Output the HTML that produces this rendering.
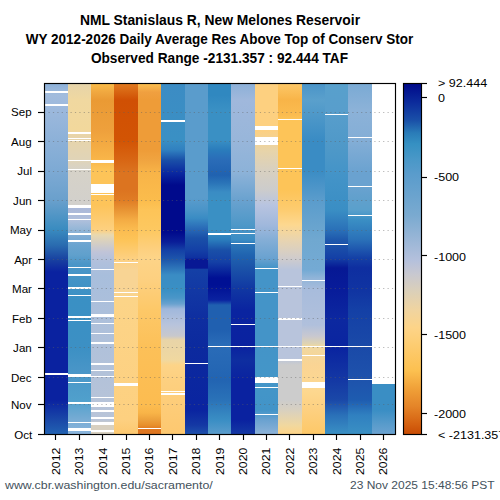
<!DOCTYPE html><html><head><meta charset="utf-8"><style>
html,body{margin:0;padding:0;background:#fff;width:500px;height:500px;overflow:hidden;}
body{position:relative;font-family:"Liberation Sans",sans-serif;color:#000;}
.a{position:absolute;white-space:nowrap;}
.t{font-weight:bold;font-size:14px;left:0;width:439px;text-align:center;transform-origin:219.5px 0;}
.ml{font-size:11px;right:468px;text-align:right;transform-origin:100% 50%;transform:scaleX(1.05);}
.yl{font-size:11px;transform-origin:0 0;transform:rotate(-90deg) scaleX(1.12);}
.cl{font-size:11px;transform-origin:0 50%;transform:scaleX(1.14);}
</style></head><body>
<div class="a t" style="top:11.5px;transform:translateX(0.5px) scaleX(0.99)">NML Stanislaus R, New Melones Reservoir</div>
<div class="a t" style="top:30.5px;transform:scaleX(0.964)">WY 2012-2026 Daily Average Res Above Top of Conserv Stor</div>
<div class="a t" style="top:50px;transform:scaleX(0.976)">Observed Range -2131.357 : 92.444 TAF</div>
<svg class="a" style="left:0;top:0" width="500" height="500"><defs><linearGradient id="cb" x1="0" y1="0" x2="0" y2="1"><stop offset="0.0000" stop-color="#000a8a"/><stop offset="0.0528" stop-color="#0c2c9c"/><stop offset="0.1041" stop-color="#1a50a8"/><stop offset="0.1401" stop-color="#2a7cb8"/><stop offset="0.1706" stop-color="#3590c2"/><stop offset="0.2169" stop-color="#4a98c8"/><stop offset="0.2579" stop-color="#5a9ccc"/><stop offset="0.3748" stop-color="#7aaad0"/><stop offset="0.5029" stop-color="#b4c0dc"/><stop offset="0.5430" stop-color="#c8c8d0"/><stop offset="0.5942" stop-color="#dcd0b8"/><stop offset="0.6455" stop-color="#f0d4a0"/><stop offset="0.6968" stop-color="#fdd488"/><stop offset="0.7480" stop-color="#fdcc70"/><stop offset="0.8195" stop-color="#fcc050"/><stop offset="0.8708" stop-color="#f0a038"/><stop offset="0.9220" stop-color="#e48428"/><stop offset="0.9733" stop-color="#d46010"/><stop offset="1.0000" stop-color="#c84c04"/></linearGradient></defs><rect x="44.50" y="83.50" width="351.00" height="350.50" fill="#fff"/><linearGradient id="g2012" gradientUnits="userSpaceOnUse" x1="0" y1="83.50" x2="0" y2="434.00"><stop offset="0.0000" stop-color="#8cb0d8"/><stop offset="0.0328" stop-color="#a2bcdd"/><stop offset="0.0756" stop-color="#9cb8dc"/><stop offset="0.2468" stop-color="#7eaad4"/><stop offset="0.3324" stop-color="#6aa0cc"/><stop offset="0.4151" stop-color="#3a8cc0"/><stop offset="0.4608" stop-color="#2a6cb0"/><stop offset="0.5036" stop-color="#1840a0"/><stop offset="0.5378" stop-color="#0a22a0"/><stop offset="0.9030" stop-color="#0a22a0"/><stop offset="0.9601" stop-color="#1a48a8"/><stop offset="1.0000" stop-color="#2262b2"/></linearGradient><rect x="44" y="83.50" width="24" height="350.50" fill="url(#g2012)"/><rect x="44" y="91" width="24" height="2" fill="#fff"/><rect x="44" y="104" width="24" height="2" fill="#fff"/><rect x="44" y="373" width="24" height="2" fill="#fff"/><linearGradient id="g2013" gradientUnits="userSpaceOnUse" x1="0" y1="83.50" x2="0" y2="434.00"><stop offset="0.0000" stop-color="#e6d4aa"/><stop offset="0.0471" stop-color="#f0d8a0"/><stop offset="0.1327" stop-color="#f2d89c"/><stop offset="0.1469" stop-color="#e8d4a8"/><stop offset="0.2183" stop-color="#e0d4b8"/><stop offset="0.2468" stop-color="#d6d2c8"/><stop offset="0.3466" stop-color="#d2d0cc"/><stop offset="0.3552" stop-color="#aab8d8"/><stop offset="0.3894" stop-color="#b0c0dc"/><stop offset="0.4123" stop-color="#98b8d8"/><stop offset="0.4351" stop-color="#80acd4"/><stop offset="0.4608" stop-color="#6aa4d0"/><stop offset="0.4893" stop-color="#60a0cc"/><stop offset="0.5150" stop-color="#4a96c8"/><stop offset="0.6177" stop-color="#3a90c4"/><stop offset="0.7546" stop-color="#3c90c4"/><stop offset="0.8260" stop-color="#4a96c8"/><stop offset="0.9030" stop-color="#50a0cc"/><stop offset="0.9601" stop-color="#78acd4"/><stop offset="1.0000" stop-color="#8ab4dc"/></linearGradient><rect x="68" y="83.50" width="23" height="350.50" fill="url(#g2013)"/><rect x="68" y="132" width="23" height="2" fill="#fff"/><rect x="68" y="138" width="23" height="1" fill="#fff"/><rect x="68" y="140" width="23" height="1" fill="#fff"/><rect x="68" y="160" width="23" height="1" fill="#fff"/><rect x="68" y="169" width="23" height="1" fill="#fff"/><rect x="68" y="205" width="23" height="3" fill="#fff"/><rect x="68" y="213" width="23" height="2" fill="#fff"/><rect x="68" y="219" width="23" height="1" fill="#fff"/><rect x="68" y="233" width="23" height="2" fill="#fff"/><rect x="68" y="240" width="23" height="2" fill="#fff"/><rect x="68" y="267" width="23" height="1" fill="#fff"/><rect x="68" y="274" width="23" height="2" fill="#fff"/><rect x="68" y="287" width="23" height="2" fill="#fff"/><rect x="68" y="295" width="23" height="1" fill="#fff"/><rect x="68" y="316" width="23" height="2" fill="#fff"/><rect x="68" y="320" width="23" height="1" fill="#fff"/><rect x="68" y="374" width="23" height="3" fill="#fff"/><rect x="68" y="382" width="23" height="1" fill="#fff"/><rect x="68" y="402" width="23" height="2" fill="#fff"/><rect x="68" y="422" width="23" height="1" fill="#fff"/><rect x="68" y="428" width="23" height="3" fill="#fff"/><linearGradient id="g2014" gradientUnits="userSpaceOnUse" x1="0" y1="83.50" x2="0" y2="434.00"><stop offset="0.0000" stop-color="#fbbc48"/><stop offset="0.0243" stop-color="#f0a840"/><stop offset="0.0471" stop-color="#ea9a34"/><stop offset="0.1327" stop-color="#eea03c"/><stop offset="0.2126" stop-color="#f8b448"/><stop offset="0.2468" stop-color="#fdc458"/><stop offset="0.3466" stop-color="#fdc45a"/><stop offset="0.4180" stop-color="#fdd080"/><stop offset="0.4322" stop-color="#e8d8b0"/><stop offset="0.4608" stop-color="#d0ccc8"/><stop offset="0.4807" stop-color="#c0c4d8"/><stop offset="0.5093" stop-color="#b0c0dc"/><stop offset="0.5464" stop-color="#a8bedc"/><stop offset="0.9601" stop-color="#b8c4d8"/><stop offset="0.9743" stop-color="#d8d0c0"/><stop offset="1.0000" stop-color="#d8d0c0"/></linearGradient><rect x="91" y="83.50" width="23" height="350.50" fill="url(#g2014)"/><rect x="91" y="160" width="23" height="3" fill="#fff"/><rect x="91" y="184" width="23" height="9" fill="#fff"/><rect x="91" y="194" width="23" height="1" fill="#fff"/><rect x="91" y="269" width="23" height="1" fill="#fff"/><rect x="91" y="301" width="23" height="1" fill="#fff"/><rect x="91" y="314" width="23" height="3" fill="#fff"/><rect x="91" y="323" width="23" height="1" fill="#fff"/><rect x="91" y="333" width="23" height="1" fill="#fff"/><rect x="91" y="342" width="23" height="2" fill="#fff"/><rect x="91" y="363" width="23" height="2" fill="#fff"/><rect x="91" y="370" width="23" height="1" fill="#fff"/><rect x="91" y="376" width="23" height="1" fill="#fff"/><rect x="91" y="397" width="23" height="1" fill="#fff"/><rect x="91" y="402" width="23" height="5" fill="#fff"/><rect x="91" y="410" width="23" height="2" fill="#fff"/><rect x="91" y="417" width="23" height="2" fill="#fff"/><rect x="91" y="422" width="23" height="3" fill="#fff"/><rect x="91" y="430" width="23" height="2" fill="#fff"/><linearGradient id="g2015" gradientUnits="userSpaceOnUse" x1="0" y1="83.50" x2="0" y2="434.00"><stop offset="0.0000" stop-color="#e07a20"/><stop offset="0.0471" stop-color="#d05004"/><stop offset="0.1612" stop-color="#d25404"/><stop offset="0.2183" stop-color="#d86614"/><stop offset="0.2553" stop-color="#dc7420"/><stop offset="0.3039" stop-color="#dc7420"/><stop offset="0.3324" stop-color="#e07c24"/><stop offset="0.3609" stop-color="#e89434"/><stop offset="0.3894" stop-color="#f4ac44"/><stop offset="0.4180" stop-color="#fbbc50"/><stop offset="0.4465" stop-color="#fdc458"/><stop offset="0.4979" stop-color="#fdd080"/><stop offset="0.5321" stop-color="#f8d494"/><stop offset="0.5892" stop-color="#f8d494"/><stop offset="0.6177" stop-color="#fcd488"/><stop offset="0.9601" stop-color="#fdd080"/><stop offset="1.0000" stop-color="#fcc870"/></linearGradient><rect x="114" y="83.50" width="24" height="350.50" fill="url(#g2015)"/><rect x="114" y="262" width="24" height="1" fill="#fff"/><rect x="114" y="292" width="24" height="1" fill="#fff"/><rect x="114" y="296" width="24" height="1" fill="#fff"/><rect x="114" y="383" width="24" height="3" fill="#fff"/><linearGradient id="g2016" gradientUnits="userSpaceOnUse" x1="0" y1="83.50" x2="0" y2="434.00"><stop offset="0.0000" stop-color="#fcc050"/><stop offset="0.0243" stop-color="#f0a040"/><stop offset="0.0471" stop-color="#ee9c38"/><stop offset="0.1897" stop-color="#ee9c38"/><stop offset="0.2183" stop-color="#f0a440"/><stop offset="0.2553" stop-color="#f8b448"/><stop offset="0.3324" stop-color="#fbbc4c"/><stop offset="0.3609" stop-color="#fdc458"/><stop offset="0.4180" stop-color="#fdc860"/><stop offset="0.4750" stop-color="#fdd080"/><stop offset="0.4979" stop-color="#fdd488"/><stop offset="0.5606" stop-color="#fdd080"/><stop offset="0.6462" stop-color="#fdc868"/><stop offset="0.7546" stop-color="#fcc058"/><stop offset="0.9173" stop-color="#fcbc50"/><stop offset="0.9401" stop-color="#f8b448"/><stop offset="0.9601" stop-color="#eca03c"/><stop offset="0.9743" stop-color="#e8902c"/><stop offset="0.9857" stop-color="#e07820"/><stop offset="1.0000" stop-color="#dc7420"/></linearGradient><rect x="138" y="83.50" width="23" height="350.50" fill="url(#g2016)"/><rect x="138" y="428" width="23" height="1" fill="#fff"/><linearGradient id="g2017" gradientUnits="userSpaceOnUse" x1="0" y1="83.50" x2="0" y2="434.00"><stop offset="0.0000" stop-color="#3c8cc4"/><stop offset="0.1612" stop-color="#3a90c4"/><stop offset="0.1897" stop-color="#3080c0"/><stop offset="0.2183" stop-color="#1a50a8"/><stop offset="0.2553" stop-color="#0a28a0"/><stop offset="0.2896" stop-color="#000a8c"/><stop offset="0.4237" stop-color="#000a8c"/><stop offset="0.4522" stop-color="#0a1e98"/><stop offset="0.4750" stop-color="#1440a6"/><stop offset="0.5036" stop-color="#1e58ac"/><stop offset="0.5464" stop-color="#3a8cc4"/><stop offset="0.5892" stop-color="#3a90c4"/><stop offset="0.6120" stop-color="#4a96c8"/><stop offset="0.6291" stop-color="#6aa2cf"/><stop offset="0.6434" stop-color="#a0b8dc"/><stop offset="0.6890" stop-color="#b8c4dc"/><stop offset="0.7204" stop-color="#c8c8cc"/><stop offset="0.7318" stop-color="#e8d4a8"/><stop offset="0.7889" stop-color="#f0d8a0"/><stop offset="0.8031" stop-color="#fdd488"/><stop offset="0.8459" stop-color="#fdd080"/><stop offset="1.0000" stop-color="#fdc870"/></linearGradient><rect x="161" y="83.50" width="24" height="350.50" fill="url(#g2017)"/><rect x="161" y="120" width="24" height="2" fill="#fff"/><rect x="161" y="391" width="24" height="1" fill="#fff"/><rect x="161" y="393" width="24" height="2" fill="#fff"/><linearGradient id="g2018" gradientUnits="userSpaceOnUse" x1="0" y1="83.50" x2="0" y2="434.00"><stop offset="0.0000" stop-color="#5a9ccc"/><stop offset="0.3267" stop-color="#5a9ccc"/><stop offset="0.3609" stop-color="#4a94c8"/><stop offset="0.3837" stop-color="#3a8cc4"/><stop offset="0.4123" stop-color="#2a6cb8"/><stop offset="0.4408" stop-color="#1a50a8"/><stop offset="0.4750" stop-color="#1440a6"/><stop offset="0.4979" stop-color="#0e30a0"/><stop offset="0.5021" stop-color="#081894"/><stop offset="0.5264" stop-color="#081894"/><stop offset="0.5307" stop-color="#1440a6"/><stop offset="0.5892" stop-color="#1238a4"/><stop offset="0.6748" stop-color="#0e2ea0"/><stop offset="0.7489" stop-color="#0c2a9e"/><stop offset="0.9315" stop-color="#0a24a0"/><stop offset="0.9743" stop-color="#1438a4"/><stop offset="1.0000" stop-color="#1e50ac"/></linearGradient><rect x="185" y="83.50" width="23" height="350.50" fill="url(#g2018)"/><rect x="185" y="363" width="23" height="1" fill="#fff"/><linearGradient id="g2019" gradientUnits="userSpaceOnUse" x1="0" y1="83.50" x2="0" y2="434.00"><stop offset="0.0000" stop-color="#3088c0"/><stop offset="0.0328" stop-color="#3088c0"/><stop offset="0.0756" stop-color="#3a90c4"/><stop offset="0.1612" stop-color="#3a90c4"/><stop offset="0.1897" stop-color="#2a7cbc"/><stop offset="0.2183" stop-color="#2a6cb8"/><stop offset="0.2611" stop-color="#2062b0"/><stop offset="0.2839" stop-color="#2a74b8"/><stop offset="0.3096" stop-color="#3a8cc4"/><stop offset="0.3324" stop-color="#3a90c4"/><stop offset="0.4180" stop-color="#3a90c4"/><stop offset="0.4465" stop-color="#2a7cbc"/><stop offset="0.4750" stop-color="#1a50a8"/><stop offset="0.5093" stop-color="#1440a6"/><stop offset="0.5549" stop-color="#001094"/><stop offset="0.5749" stop-color="#001094"/><stop offset="0.6177" stop-color="#0a22a0"/><stop offset="0.6320" stop-color="#2060b0"/><stop offset="0.7033" stop-color="#2060b0"/><stop offset="0.7461" stop-color="#2a6cb8"/><stop offset="0.8459" stop-color="#2264b2"/><stop offset="0.9030" stop-color="#2a72b8"/><stop offset="0.9601" stop-color="#3a8ec4"/><stop offset="1.0000" stop-color="#5a9ccc"/></linearGradient><rect x="208" y="83.50" width="23" height="350.50" fill="url(#g2019)"/><rect x="208" y="233" width="23" height="2" fill="#fff"/><rect x="208" y="346" width="23" height="1" fill="#fff"/><linearGradient id="g2020" gradientUnits="userSpaceOnUse" x1="0" y1="83.50" x2="0" y2="434.00"><stop offset="0.0000" stop-color="#8cb0d8"/><stop offset="0.0471" stop-color="#a0b8dc"/><stop offset="0.1612" stop-color="#98b6da"/><stop offset="0.2553" stop-color="#8cb2d8"/><stop offset="0.3324" stop-color="#6aa2cf"/><stop offset="0.4037" stop-color="#4e98c8"/><stop offset="0.4465" stop-color="#3a8cc4"/><stop offset="0.4608" stop-color="#2a74b8"/><stop offset="0.4893" stop-color="#2064b0"/><stop offset="0.5321" stop-color="#1a50a8"/><stop offset="0.5892" stop-color="#1036a2"/><stop offset="0.6462" stop-color="#0a24a0"/><stop offset="0.7489" stop-color="#0a22a0"/><stop offset="0.7889" stop-color="#0e2ea0"/><stop offset="0.8459" stop-color="#0a22a0"/><stop offset="0.9601" stop-color="#0a22a0"/><stop offset="1.0000" stop-color="#1438a4"/></linearGradient><rect x="231" y="83.50" width="24" height="350.50" fill="url(#g2020)"/><rect x="231" y="229" width="24" height="1" fill="#fff"/><rect x="231" y="233" width="24" height="1" fill="#fff"/><rect x="231" y="243" width="24" height="1" fill="#fff"/><rect x="231" y="324" width="24" height="1" fill="#fff"/><rect x="231" y="346" width="24" height="1" fill="#fff"/><linearGradient id="g2021" gradientUnits="userSpaceOnUse" x1="0" y1="83.50" x2="0" y2="434.00"><stop offset="0.0000" stop-color="#fdd080"/><stop offset="0.1327" stop-color="#fdd080"/><stop offset="0.1897" stop-color="#e8d4a8"/><stop offset="0.2468" stop-color="#d8d0c0"/><stop offset="0.3039" stop-color="#cccccc"/><stop offset="0.3466" stop-color="#b8c4e0"/><stop offset="0.4037" stop-color="#a0b8dc"/><stop offset="0.4465" stop-color="#84aed6"/><stop offset="0.4979" stop-color="#6aa2d0"/><stop offset="0.5264" stop-color="#4494c8"/><stop offset="0.7489" stop-color="#4494c8"/><stop offset="0.8317" stop-color="#4496c8"/><stop offset="0.9315" stop-color="#4294c8"/><stop offset="0.9601" stop-color="#6aa2d0"/><stop offset="1.0000" stop-color="#8cb2d8"/></linearGradient><rect x="255" y="83.50" width="23" height="350.50" fill="url(#g2021)"/><rect x="255" y="126" width="23" height="4" fill="#fff"/><rect x="255" y="137" width="23" height="8" fill="#fff"/><rect x="255" y="268" width="23" height="1" fill="#fff"/><rect x="255" y="292" width="23" height="1" fill="#fff"/><rect x="255" y="346" width="23" height="1" fill="#fff"/><rect x="255" y="377" width="23" height="6" fill="#fff"/><rect x="255" y="387" width="23" height="1" fill="#fff"/><rect x="255" y="414" width="23" height="1" fill="#fff"/><linearGradient id="g2022" gradientUnits="userSpaceOnUse" x1="0" y1="83.50" x2="0" y2="434.00"><stop offset="0.0000" stop-color="#fdc868"/><stop offset="0.0471" stop-color="#f8b448"/><stop offset="0.0899" stop-color="#fbbc50"/><stop offset="0.1041" stop-color="#fdc458"/><stop offset="0.3039" stop-color="#fdc458"/><stop offset="0.3609" stop-color="#fdcc70"/><stop offset="0.4037" stop-color="#fdd890"/><stop offset="0.4465" stop-color="#e8d4b0"/><stop offset="0.4979" stop-color="#d0cccc"/><stop offset="0.5321" stop-color="#b8c4dc"/><stop offset="0.7832" stop-color="#b8c4dc"/><stop offset="0.8031" stop-color="#cccccc"/><stop offset="0.9030" stop-color="#cccccc"/><stop offset="0.9315" stop-color="#d8d0c0"/><stop offset="0.9743" stop-color="#f0d8a0"/><stop offset="1.0000" stop-color="#fdd488"/></linearGradient><rect x="278" y="83.50" width="24" height="350.50" fill="url(#g2022)"/><rect x="278" y="119" width="24" height="1" fill="#fff"/><rect x="278" y="168" width="24" height="1" fill="#fff"/><rect x="278" y="286" width="24" height="1" fill="#fff"/><rect x="278" y="318" width="24" height="2" fill="#fff"/><rect x="278" y="346" width="24" height="1" fill="#fff"/><rect x="278" y="359" width="24" height="2" fill="#fff"/><linearGradient id="g2023" gradientUnits="userSpaceOnUse" x1="0" y1="83.50" x2="0" y2="434.00"><stop offset="0.0000" stop-color="#4a94c8"/><stop offset="0.0471" stop-color="#5aa0cc"/><stop offset="0.1612" stop-color="#3a8cc4"/><stop offset="0.2468" stop-color="#3a8cc4"/><stop offset="0.3324" stop-color="#5a9ccc"/><stop offset="0.4465" stop-color="#70a8d0"/><stop offset="0.5321" stop-color="#74aad4"/><stop offset="0.5549" stop-color="#90b4d8"/><stop offset="0.5892" stop-color="#a8bcdc"/><stop offset="0.6890" stop-color="#b0c0dc"/><stop offset="0.7204" stop-color="#c8c8d0"/><stop offset="0.7432" stop-color="#e0d4b0"/><stop offset="0.7489" stop-color="#f0d8a0"/><stop offset="0.8031" stop-color="#fad494"/><stop offset="0.8745" stop-color="#fdd890"/><stop offset="0.9315" stop-color="#fdd080"/><stop offset="1.0000" stop-color="#fdc868"/></linearGradient><rect x="302" y="83.50" width="23" height="350.50" fill="url(#g2023)"/><rect x="302" y="280" width="23" height="1" fill="#fff"/><rect x="302" y="346" width="23" height="1" fill="#fff"/><rect x="302" y="355" width="23" height="1" fill="#fff"/><rect x="302" y="382" width="23" height="6" fill="#fff"/><linearGradient id="g2024" gradientUnits="userSpaceOnUse" x1="0" y1="83.50" x2="0" y2="434.00"><stop offset="0.0000" stop-color="#58a0cc"/><stop offset="0.0756" stop-color="#589ecc"/><stop offset="0.1897" stop-color="#4e98c8"/><stop offset="0.2553" stop-color="#4494c8"/><stop offset="0.3609" stop-color="#3a8ec4"/><stop offset="0.4180" stop-color="#2a70b8"/><stop offset="0.4465" stop-color="#1e58ac"/><stop offset="0.4979" stop-color="#1440a6"/><stop offset="0.5264" stop-color="#061894"/><stop offset="0.5892" stop-color="#081c9a"/><stop offset="0.6748" stop-color="#0c28a0"/><stop offset="0.7546" stop-color="#0a24a0"/><stop offset="0.8459" stop-color="#1438a4"/><stop offset="0.9030" stop-color="#1a48a8"/><stop offset="0.9458" stop-color="#2a70b8"/><stop offset="1.0000" stop-color="#3a90c4"/></linearGradient><rect x="325" y="83.50" width="23" height="350.50" fill="url(#g2024)"/><rect x="325" y="114" width="23" height="1" fill="#fff"/><rect x="325" y="244" width="23" height="1" fill="#fff"/><rect x="325" y="346" width="23" height="1" fill="#fff"/><linearGradient id="g2025" gradientUnits="userSpaceOnUse" x1="0" y1="83.50" x2="0" y2="434.00"><stop offset="0.0000" stop-color="#7aaad4"/><stop offset="0.0756" stop-color="#8cb2d8"/><stop offset="0.1612" stop-color="#84aed6"/><stop offset="0.2553" stop-color="#6aa2d0"/><stop offset="0.2896" stop-color="#6aa2d0"/><stop offset="0.3324" stop-color="#60a0cc"/><stop offset="0.3609" stop-color="#5aa0cc"/><stop offset="0.3894" stop-color="#3a8ec4"/><stop offset="0.4465" stop-color="#2a70b8"/><stop offset="0.4979" stop-color="#1440a6"/><stop offset="0.5264" stop-color="#0e2ea0"/><stop offset="0.5892" stop-color="#1034a2"/><stop offset="0.6462" stop-color="#1440a6"/><stop offset="0.7546" stop-color="#1a4aa8"/><stop offset="0.8402" stop-color="#1e52ac"/><stop offset="0.9030" stop-color="#1e5cb0"/><stop offset="0.9458" stop-color="#3080c0"/><stop offset="1.0000" stop-color="#3a90c4"/></linearGradient><rect x="348" y="83.50" width="24" height="350.50" fill="url(#g2025)"/><rect x="348" y="137" width="24" height="1" fill="#fff"/><rect x="348" y="186" width="24" height="1" fill="#fff"/><rect x="348" y="215" width="24" height="1" fill="#fff"/><rect x="348" y="346" width="24" height="1" fill="#fff"/><rect x="348" y="379" width="24" height="1" fill="#fff"/><linearGradient id="g2026" gradientUnits="userSpaceOnUse" x1="0" y1="83.50" x2="0" y2="434.00"><stop offset="0.0000" stop-color="#ffffff"/><stop offset="0.8579" stop-color="#ffffff"/><stop offset="0.8582" stop-color="#3a8ec4"/><stop offset="0.9315" stop-color="#3a8ec4"/><stop offset="0.9743" stop-color="#5a9ccc"/><stop offset="1.0000" stop-color="#6aa2d0"/></linearGradient><rect x="372" y="83.50" width="24" height="350.50" fill="url(#g2026)"/><line x1="48.5" y1="404.5" x2="395" y2="404.5" stroke="#606060" stroke-width="1.1" stroke-dasharray="1.2,3.203" stroke-opacity="0.45"/><line x1="48.5" y1="377.5" x2="395" y2="377.5" stroke="#606060" stroke-width="1.1" stroke-dasharray="1.2,3.203" stroke-opacity="0.45"/><line x1="48.5" y1="347.5" x2="395" y2="347.5" stroke="#606060" stroke-width="1.1" stroke-dasharray="1.2,3.203" stroke-opacity="0.45"/><line x1="48.5" y1="318.5" x2="395" y2="318.5" stroke="#606060" stroke-width="1.1" stroke-dasharray="1.2,3.203" stroke-opacity="0.45"/><line x1="48.5" y1="288.5" x2="395" y2="288.5" stroke="#606060" stroke-width="1.1" stroke-dasharray="1.2,3.203" stroke-opacity="0.45"/><line x1="48.5" y1="259.5" x2="395" y2="259.5" stroke="#606060" stroke-width="1.1" stroke-dasharray="1.2,3.203" stroke-opacity="0.45"/><line x1="48.5" y1="230.5" x2="395" y2="230.5" stroke="#606060" stroke-width="1.1" stroke-dasharray="1.2,3.203" stroke-opacity="0.45"/><line x1="48.5" y1="200.5" x2="395" y2="200.5" stroke="#606060" stroke-width="1.1" stroke-dasharray="1.2,3.203" stroke-opacity="0.45"/><line x1="48.5" y1="171.5" x2="395" y2="171.5" stroke="#606060" stroke-width="1.1" stroke-dasharray="1.2,3.203" stroke-opacity="0.45"/><line x1="48.5" y1="141.5" x2="395" y2="141.5" stroke="#606060" stroke-width="1.1" stroke-dasharray="1.2,3.203" stroke-opacity="0.45"/><line x1="48.5" y1="112.5" x2="395" y2="112.5" stroke="#606060" stroke-width="1.1" stroke-dasharray="1.2,3.203" stroke-opacity="0.45"/><rect x="44.5" y="83.5" width="351" height="351" fill="none" stroke="#000" stroke-width="1.15"/><line x1="38" y1="434.5" x2="44.5" y2="434.5" stroke="#000" stroke-width="1.15"/><line x1="38" y1="404.5" x2="44.5" y2="404.5" stroke="#000" stroke-width="1.15"/><line x1="38" y1="377.5" x2="44.5" y2="377.5" stroke="#000" stroke-width="1.15"/><line x1="38" y1="347.5" x2="44.5" y2="347.5" stroke="#000" stroke-width="1.15"/><line x1="38" y1="318.5" x2="44.5" y2="318.5" stroke="#000" stroke-width="1.15"/><line x1="38" y1="288.5" x2="44.5" y2="288.5" stroke="#000" stroke-width="1.15"/><line x1="38" y1="259.5" x2="44.5" y2="259.5" stroke="#000" stroke-width="1.15"/><line x1="38" y1="230.5" x2="44.5" y2="230.5" stroke="#000" stroke-width="1.15"/><line x1="38" y1="200.5" x2="44.5" y2="200.5" stroke="#000" stroke-width="1.15"/><line x1="38" y1="171.5" x2="44.5" y2="171.5" stroke="#000" stroke-width="1.15"/><line x1="38" y1="141.5" x2="44.5" y2="141.5" stroke="#000" stroke-width="1.15"/><line x1="38" y1="112.5" x2="44.5" y2="112.5" stroke="#000" stroke-width="1.15"/><line x1="55.5" y1="434.5" x2="55.5" y2="440" stroke="#000" stroke-width="1.15"/><line x1="79.5" y1="434.5" x2="79.5" y2="440" stroke="#000" stroke-width="1.15"/><line x1="102.5" y1="434.5" x2="102.5" y2="440" stroke="#000" stroke-width="1.15"/><line x1="126.5" y1="434.5" x2="126.5" y2="440" stroke="#000" stroke-width="1.15"/><line x1="149.5" y1="434.5" x2="149.5" y2="440" stroke="#000" stroke-width="1.15"/><line x1="172.5" y1="434.5" x2="172.5" y2="440" stroke="#000" stroke-width="1.15"/><line x1="196.5" y1="434.5" x2="196.5" y2="440" stroke="#000" stroke-width="1.15"/><line x1="219.5" y1="434.5" x2="219.5" y2="440" stroke="#000" stroke-width="1.15"/><line x1="243.5" y1="434.5" x2="243.5" y2="440" stroke="#000" stroke-width="1.15"/><line x1="266.5" y1="434.5" x2="266.5" y2="440" stroke="#000" stroke-width="1.15"/><line x1="289.5" y1="434.5" x2="289.5" y2="440" stroke="#000" stroke-width="1.15"/><line x1="313.5" y1="434.5" x2="313.5" y2="440" stroke="#000" stroke-width="1.15"/><line x1="336.5" y1="434.5" x2="336.5" y2="440" stroke="#000" stroke-width="1.15"/><line x1="360.5" y1="434.5" x2="360.5" y2="440" stroke="#000" stroke-width="1.15"/><line x1="383.5" y1="434.5" x2="383.5" y2="440" stroke="#000" stroke-width="1.15"/><rect x="404" y="84" width="17" height="350" fill="url(#cb)"/><rect x="403.5" y="83.5" width="18" height="351" fill="none" stroke="#000" stroke-width="1.15"/><line x1="421.5" y1="83.5" x2="427" y2="83.5" stroke="#000" stroke-width="1.15"/><line x1="421.5" y1="97.5" x2="427" y2="97.5" stroke="#000" stroke-width="1.15"/><line x1="421.5" y1="177.5" x2="427" y2="177.5" stroke="#000" stroke-width="1.15"/><line x1="421.5" y1="255.5" x2="427" y2="255.5" stroke="#000" stroke-width="1.15"/><line x1="421.5" y1="334.5" x2="427" y2="334.5" stroke="#000" stroke-width="1.15"/><line x1="421.5" y1="413.5" x2="427" y2="413.5" stroke="#000" stroke-width="1.15"/><line x1="421.5" y1="434.5" x2="427" y2="434.5" stroke="#000" stroke-width="1.15"/></svg>
<div class="a ml" style="top:428.5px">Oct</div>
<div class="a ml" style="top:398.5px">Nov</div>
<div class="a ml" style="top:371.9px">Dec</div>
<div class="a ml" style="top:342.0px">Jan</div>
<div class="a ml" style="top:313.0px">Feb</div>
<div class="a ml" style="top:283.0px">Mar</div>
<div class="a ml" style="top:254.2px">Apr</div>
<div class="a ml" style="top:223.7px">May</div>
<div class="a ml" style="top:194.9px">Jun</div>
<div class="a ml" style="top:164.8px">Jul</div>
<div class="a ml" style="top:136.0px">Aug</div>
<div class="a ml" style="top:105.8px">Sep</div>
<div class="a yl" style="left:49.7px;top:475px">2012</div>
<div class="a yl" style="left:73.1px;top:475px">2013</div>
<div class="a yl" style="left:96.5px;top:475px">2014</div>
<div class="a yl" style="left:119.9px;top:475px">2015</div>
<div class="a yl" style="left:143.3px;top:475px">2016</div>
<div class="a yl" style="left:166.7px;top:475px">2017</div>
<div class="a yl" style="left:190.1px;top:475px">2018</div>
<div class="a yl" style="left:213.5px;top:475px">2019</div>
<div class="a yl" style="left:236.9px;top:475px">2020</div>
<div class="a yl" style="left:260.3px;top:475px">2021</div>
<div class="a yl" style="left:283.7px;top:475px">2022</div>
<div class="a yl" style="left:307.1px;top:475px">2023</div>
<div class="a yl" style="left:330.5px;top:475px">2024</div>
<div class="a yl" style="left:353.9px;top:475px">2025</div>
<div class="a yl" style="left:377.3px;top:475px">2026</div>
<div class="a cl" style="left:437.6px;top:77.0px">&gt; 92.444</div>
<div class="a cl" style="left:437.6px;top:91.6px">0</div>
<div class="a cl" style="left:434.3px;top:171.4px">-500</div>
<div class="a cl" style="left:434.3px;top:250.5px">-1000</div>
<div class="a cl" style="left:434.3px;top:329.3px">-1500</div>
<div class="a cl" style="left:434.3px;top:407.8px">-2000</div>
<div class="a cl" style="left:437.7px;top:428.5px">&lt; -2131.357</div>
<div class="a" style="left:5px;top:479px;font-size:11px;color:#44525c;transform-origin:0 0;transform:scaleX(1.125)">www.cbr.washington.edu/sacramento/</div>
<div class="a" style="left:350px;top:479px;font-size:11px;color:#44525c;transform-origin:0 0;transform:scaleX(1.09)">23 Nov 2025 15:48:56 PST</div>
</body></html>
